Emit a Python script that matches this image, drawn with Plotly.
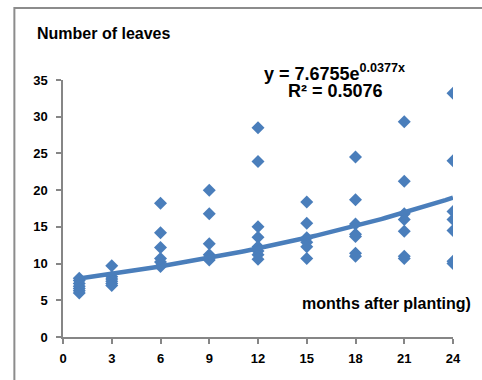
import numpy as np
import plotly.graph_objects as go

# Months after planting at which leaves were counted
months = [1, 3, 6, 9, 12, 15, 18, 21, 24]

# Leaf counts recorded at each month (one list per month)
leaves_m1 = [8.0, 7.7, 7.3, 6.9, 6.6, 6.3, 6.0]
leaves_m3 = [9.7, 8.2, 7.9, 7.6, 7.3, 7.0]
leaves_m6 = [18.2, 14.2, 12.2, 10.7, 10.2, 9.6]
leaves_m9 = [20.0, 16.8, 12.7, 11.2, 10.8, 10.5]
leaves_m12 = [28.5, 23.9, 15.0, 13.6, 12.3, 11.7, 11.2, 10.6]
leaves_m15 = [18.4, 15.5, 13.5, 12.9, 12.3, 10.7]
leaves_m18 = [24.5, 18.7, 15.4, 14.0, 13.7, 11.4, 11.0]
leaves_m21 = [29.3, 21.2, 16.8, 16.0, 14.4, 11.0, 10.7]
leaves_m24 = [33.2, 24.0, 17.1, 16.0, 14.5, 10.3, 10.0]

# Exponential trendline coefficients  y = a * exp(b * x)
trend_a = 7.6755
trend_b = 0.0377
r_squared = 0.5076

x_ticks = [0, 3, 6, 9, 12, 15, 18, 21, 24]
y_ticks = [0, 5, 10, 15, 20, 25, 30, 35]

groups = [leaves_m1, leaves_m3, leaves_m6, leaves_m9, leaves_m12,
          leaves_m15, leaves_m18, leaves_m21, leaves_m24]
xs, ys = [], []
for m, vals in zip(months, groups):
    xs += [m] * len(vals)
    ys += vals

blue = "#4A7EBB"
axis_grey = "#868686"
font_family = "Liberation Sans, Arial, sans-serif"

fig = go.Figure()
fig.add_trace(go.Scatter(
    x=xs, y=ys, mode="markers",
    marker=dict(symbol="diamond", size=10, color=blue, line=dict(width=0)),
    showlegend=False, hoverinfo="x+y",
))

tx = np.linspace(months[0], months[-1], 100)
ty = trend_a * np.exp(trend_b * tx)
fig.add_trace(go.Scatter(
    x=tx, y=ty, mode="lines",
    line=dict(color=blue, width=4.5),
    showlegend=False, hoverinfo="skip",
))

axis_common = dict(
    showgrid=False, zeroline=False,
    showline=True, linecolor=axis_grey, linewidth=1.5,
    ticks="outside", ticklen=5, tickcolor=axis_grey, tickwidth=1.5,
    tickfont=dict(family=font_family, size=13, color="black"),
)

fig.update_layout(
    width=482, height=380,
    margin=dict(l=62.7, r=28.7, t=80, b=42.7),
    paper_bgcolor="white", plot_bgcolor="white",
    xaxis=dict(range=[0, 24], tickvals=x_ticks,
               ticktext=[f"<b>{v}</b>" for v in x_ticks],
               ticklabelstandoff=4, **axis_common),
    yaxis=dict(range=[0, 35], tickvals=y_ticks,
               ticktext=[f"<b>{v}</b>" for v in y_ticks],
               ticklabelstandoff=6, **axis_common),
    font=dict(family=font_family, color="black"),
)

# Chart frame (left and top edges visible, the rest runs off the page)
px_w, px_h = 390.6, 257.3
def px_to_paper_x(px):
    return (px - 62.7) / px_w
def px_to_paper_y(py):
    return (337.3 - py) / px_h

fig.add_shape(type="rect", xref="paper", yref="paper",
              x0=px_to_paper_x(14), x1=px_to_paper_x(500),
              y0=px_to_paper_y(400), y1=px_to_paper_y(8),
              line=dict(color="#8C8C8C", width=2), fillcolor="rgba(0,0,0,0)",
              layer="below")

fig.add_annotation(
    text="<b>Number of leaves</b>", xref="paper", yref="paper",
    x=px_to_paper_x(35), y=px_to_paper_y(33.5), xanchor="left", yanchor="middle",
    showarrow=False, font=dict(family=font_family, size=16, color="black"),
)
fig.add_annotation(
    text=f"<b>y = {trend_a}e<sup>{trend_b}x</sup></b>", xref="paper", yref="paper",
    x=px_to_paper_x(335), y=px_to_paper_y(72), xanchor="center", yanchor="middle",
    showarrow=False, font=dict(family=font_family, size=18, color="black"),
)
fig.add_annotation(
    text=f"<b>R² = {r_squared}</b>", xref="paper", yref="paper",
    x=px_to_paper_x(336), y=px_to_paper_y(91), xanchor="center", yanchor="middle",
    showarrow=False, font=dict(family=font_family, size=18, color="black"),
)
fig.add_annotation(
    text="<b>months after planting)</b>", xref="paper", yref="paper",
    x=px_to_paper_x(473), y=px_to_paper_y(303.5), xanchor="right", yanchor="middle",
    showarrow=False, font=dict(family=font_family, size=16, color="black"),
)

fig.write_html("out.html")
